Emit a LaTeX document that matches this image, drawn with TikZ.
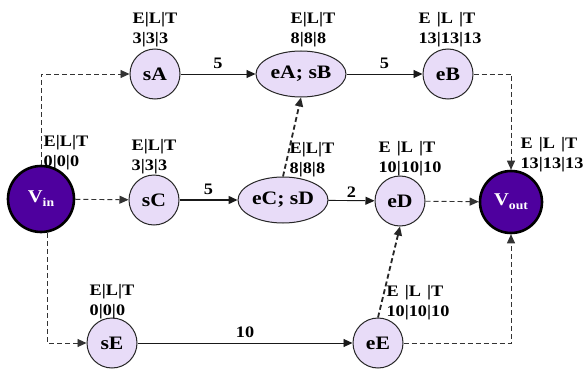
\documentclass[tikz,border=0pt]{standalone}
\usepackage{fontspec}
\setmainfont{Liberation Serif}[FakeStretch=1.14]
\usetikzlibrary{arrows.meta,shapes.geometric}
\definecolor{lav}{HTML}{E8DCF8}
\definecolor{deep}{HTML}{4E009E}
\tikzset{
  task/.style={circle,draw=black!85,line width=1pt,fill=lav,minimum size=50pt,inner sep=0pt,
    font=\fontsize{19}{20}\selectfont\bfseries},
  pair/.style={ellipse,draw=black!85,line width=1pt,fill=lav,minimum width=90pt,minimum height=46pt,inner sep=0pt,
    font=\fontsize{19}{20}\selectfont\bfseries},
  term/.style={circle,draw=black,line width=2.6pt,fill=deep,inner sep=0pt,text=white,
    font=\fontsize{18}{20}\selectfont\bfseries},
  elt/.style={align=left,inner sep=0pt,font=\fontsize{16}{20}\selectfont\bfseries},
  wt/.style={inner sep=0pt,font=\fontsize{16}{18}\selectfont\bfseries},
  tip/.style={-{Triangle[length=9pt,width=8pt]}},
  solidedge/.style={tip,line width=0.9pt,draw=black!90},
  dashedge/.style={tip,line width=0.9pt,draw=black!80,dash pattern=on 5pt off 3pt},
  slackedge/.style={tip,line width=1.8pt,draw=black!85,dash pattern=on 5pt off 3pt},
}
\newcommand{\twodig}[3]{\begin{tabular}{@{}l@{|}l@{|}l@{}}E&L&T\\#1&#2&#3\end{tabular}}
\begin{document}
\begin{tikzpicture}[x=1pt,y=-1pt]
\useasboundingbox[fill=white] (0,0) rectangle (584,369);

% nodes
\node[term,minimum size=66pt] (vin) at (41,199) {V\raisebox{-0.5ex}{\fontsize{12}{12}\selectfont in}};
\node[term,minimum size=62pt] (vout) at (511,202) {V\raisebox{-0.5ex}{\fontsize{12}{12}\selectfont out}};
\node[task] (sA) at (155,74) {sA};
\node[pair] (eAsB) at (301,74) {eA; sB};
\node[task] (eB) at (448,74) {eB};
\node[task] (sC) at (154,200) {sC};
\node[pair] (eCsD) at (283,200) {eC; sD};
\node[task] (eD) at (400,201) {eD};
\node[task] (sE) at (112,343) {sE};
\node[task] (eE) at (378,343) {eE};

% E|L|T annotations
\node[elt] (lvin) at (66,153) {E|L|T\\0|0|0};
\node[elt] (lsA) at (155,30) {E|L|T\\3|3|3};
\node[elt] (leAsB) at (313,30) {E|L|T\\8|8|8};
\node[elt] (leB) at (450,30) {\twodig{13}{13}{13}};
\node[elt] (lsC) at (154,157) {E|L|T\\3|3|3};
\node[elt] (leCsD) at (312,160) {E|L|T\\8|8|8};
\node[elt] (leD) at (410,158) {\twodig{10}{10}{10}};
\node[elt] (lvout) at (552,154) {\twodig{13}{13}{13}};
\node[elt] (lsE) at (112,302) {E|L|T\\0|0|0};
\node[elt] (leE) at (418,302) {\twodig{10}{10}{10}};

% connectors
\draw[dashedge] (vin.north) |- (sA);
\draw[dashedge] (vin) -- (sC);
\draw[dashedge] ([xshift=6pt]vin.south) |- (sE);
\draw[solidedge] (sA) -- node[wt,above=5pt] (w1) {5} (eAsB);
\draw[solidedge] (eAsB) -- node[wt,above=5pt] (w2) {5} (eB);
\draw[solidedge,line width=1.5pt] (sC) -- node[wt,above=5pt] (w3) {5} (eCsD);
\draw[solidedge] (eCsD) -- node[wt,above=3pt] (w4) {2} (eD);
\draw[solidedge] (sE) -- node[wt,above=5pt] (w5) {10} (eE);
\draw[slackedge] (eCsD.north) -- (eAsB.south);
\draw[slackedge] (eE.north) -- (eD.south);
\draw[dashedge] (eD) -- (vout);
\draw[dashedge] (eB) -| (vout);
\draw[dashedge] (eE) -| (vout);
\end{tikzpicture}
\end{document}
